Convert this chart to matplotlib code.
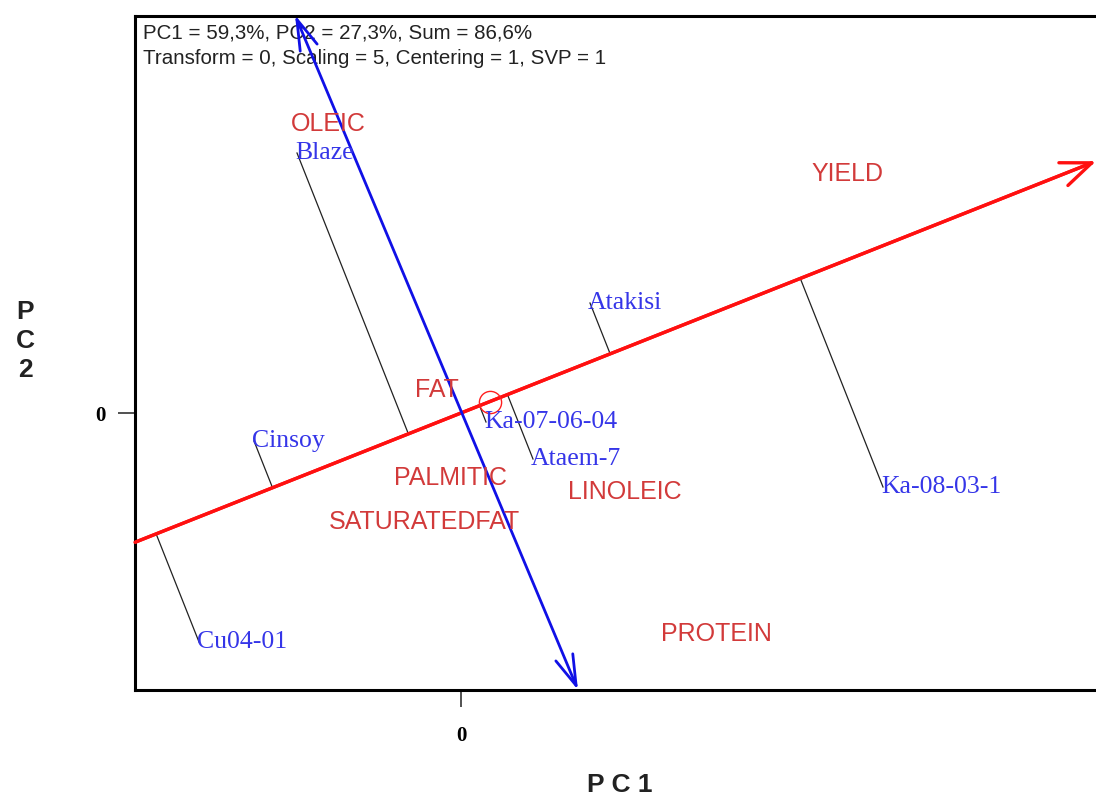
import matplotlib
matplotlib.use("Agg")
import matplotlib.pyplot as plt
from matplotlib.patches import FancyArrowPatch
import numpy as np

# genotype scores (PC1, PC2)
genotypes = ["Blaze", "Atakisi", "Cinsoy", "Cu04-01", "Ka-08-03-1", "Ataem-7", "Ka-07-06-04"]
geno_pc1 = [-1.64, 1.29, -2.07, -2.62, 4.22, 0.72, 0.25]
geno_pc2 = [2.60, 1.10, -0.28, -2.29, -0.74, -0.46, -0.09]

# trait (environment) scores
traits = ["OLEIC", "YIELD", "FAT", "PALMITIC", "LINOLEIC", "SATURATEDFAT", "PROTEIN"]
trait_pc1 = [-1.33, 3.86, -0.24, -0.11, 1.64, -0.37, 2.55]
trait_pc2 = [2.89, 2.39, 0.23, -0.65, -0.79, -1.09, -2.21]

# average environment coordinate and axis ends
aec_point = (0.29, 0.115)
aec_x_ends = [-3.26, 6.35]
ordinate_ends = [(-1.66, 3.98), (1.17, -2.77)]

header = ["PC1 = 59,3%, PC2 = 27,3%, Sum = 86,6%",
          "Transform = 0, Scaling = 5, Centering = 1, SVP = 1"]

x_lim = (-3.26, 6.39)
y_lim = (-2.77, 3.97)

fig = plt.figure(figsize=(10.96, 7.96), dpi=100)
ax = fig.add_axes([135 / 1096, 106 / 796, 965 / 1096, 674 / 796])
ax.set_xlim(*x_lim)
ax.set_ylim(*y_lim)

# average environment axis (red)
d = np.array(aec_point) / np.hypot(*aec_point)
slope = d[1] / d[0]
x0, x1 = aec_x_ends
red_start = (x0, x0 * slope)
red_end = (x1, x1 * slope)
ax.plot([red_start[0], red_end[0] - 0.05], [red_start[1], red_end[1] - 0.05 * slope],
        color="#ff1010", lw=2.4, zorder=3)
ax.add_patch(FancyArrowPatch(red_start, red_end, arrowstyle="->,head_length=1.0,head_width=0.4",
                             mutation_scale=22, color="#ff1010", lw=2.4, shrinkA=0, shrinkB=0,
                             zorder=3, clip_on=False))

# ordinate (blue)
ax.add_patch(FancyArrowPatch(ordinate_ends[0], ordinate_ends[1],
                             arrowstyle="<->,head_length=1.0,head_width=0.3",
                             mutation_scale=22, color="#1010e6", lw=2.0, shrinkA=0, shrinkB=0,
                             zorder=4, clip_on=False))

# circle at average environment
ax.plot(aec_point[0], aec_point[1], marker="o", ms=16, mfc="none", mec="#ff2020", mew=1.0, zorder=5)

# projections of genotypes on the red axis
for gx, gy, name in zip(geno_pc1, geno_pc2, genotypes):
    t = gx * d[0] + gy * d[1]
    ax.plot([gx, t * d[0]], [gy, t * d[1]], color="#222222", lw=0.9, zorder=2)
    ax.text(gx - 0.02, gy, name, color="#3535e8", fontsize=18.5, family="Liberation Serif",
            ha="left", va="center", zorder=6)

for tx, ty, name in zip(trait_pc1, trait_pc2, traits):
    ax.text(tx, ty, name, color="#d23a3a", fontsize=18, family="Liberation Sans",
            ha="center", va="center", zorder=6)

# header text
ax.text(8 / 965, 1 - 17 / 674, header[0], transform=ax.transAxes, fontsize=14.8,
        family="Liberation Sans", color="#222222", va="center", ha="left")
ax.text(8 / 965, 1 - 42 / 674, header[1], transform=ax.transAxes, fontsize=14.8,
        family="Liberation Sans", color="#222222", va="center", ha="left")

# frame and ticks
for side in ["left", "top", "bottom"]:
    ax.spines[side].set_linewidth(2.2)
ax.spines["right"].set_visible(False)
ax.set_xticks([0])
ax.set_yticks([0])
ax.tick_params(direction="out", length=12, width=1.2, color="#333333")
ax.tick_params(axis="x", pad=14)
ax.tick_params(axis="y", pad=9)
for lab in ax.get_xticklabels() + ax.get_yticklabels():
    lab.set_fontfamily("Liberation Serif")
    lab.set_fontweight("bold")
    lab.set_fontsize(15)

fig.text(620 / 1096, 1 - 785 / 796, "P C 1", fontsize=19, fontweight="bold",
         family="Liberation Sans", ha="center", va="center", color="#222222")
fig.text(25 / 1096, 1 - 341 / 796, "P\nC\n2", fontsize=19, fontweight="bold",
         family="Liberation Sans", ha="center", va="center", linespacing=1.25, color="#222222")

fig.savefig("out.png", dpi=100)
